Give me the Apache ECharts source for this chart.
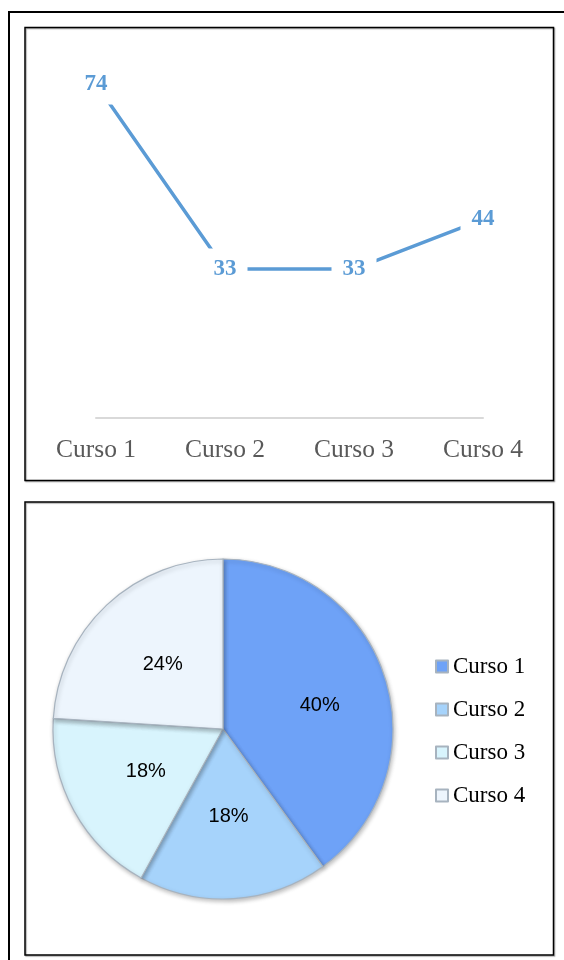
<!DOCTYPE html>
<html>
<head>
<meta charset="utf-8">
<script src="https://cdn.jsdelivr.net/npm/echarts@6/dist/echarts.min.js"></script>
<style>
html,body{margin:0;padding:0;background:#fff;}
#c{width:564px;height:960px;}
</style>
</head>
<body>
<div id="c"></div>
<script>
var categories = ['Curso 1', 'Curso 2', 'Curso 3', 'Curso 4'];
var lineValues = [74, 33, 33, 44];
var pieValues = [40, 18, 18, 24];
var pieColors = ['#6ea2f7', '#a6d3fb', '#d8f4fd', '#edf5fd'];

var chart = echarts.init(document.getElementById('c'), null, {renderer: 'canvas'});

var pieData = categories.map(function (c, i) {
  var d = { name: c, value: pieValues[i], itemStyle: { color: pieColors[i] } };
  if (i === 0) { d.label = { offset: [13, 4] }; }
  return d;
});

chart.setOption({
  animation: false,
  backgroundColor: '#ffffff',
  graphic: [
    { type: 'rect', shape: { x: 9, y: 12, width: 580, height: 980 }, style: { fill: 'none', stroke: '#000', lineWidth: 2 }, z: 0 },
    { type: 'rect', shape: { x: 25, y: 27.5, width: 528.5, height: 453 }, style: { fill: 'none', stroke: '#000', lineWidth: 1.5, shadowColor: 'rgba(0,0,0,0.35)', shadowOffsetX: 1, shadowOffsetY: 1, shadowBlur: 1 }, z: 0 },
    { type: 'rect', shape: { x: 25, y: 502, width: 528.5, height: 453 }, style: { fill: 'none', stroke: '#000', lineWidth: 1.5, shadowColor: 'rgba(0,0,0,0.35)', shadowOffsetX: 1, shadowOffsetY: 1, shadowBlur: 1 }, z: 0 }
  ],
  grid: { left: 96, right: 81, top: 57, bottom: 542, containLabel: false },
  xAxis: {
    type: 'category',
    data: categories,
    boundaryGap: false,
    axisLine: { show: true, lineStyle: { color: '#d9d9d9', width: 2 } },
    axisTick: { show: false },
    axisLabel: { color: '#595959', fontFamily: 'Liberation Serif', fontSize: 25.5, margin: 19, interval: 0 }
  },
  yAxis: {
    type: 'value', min: 0, max: 80, show: false, splitLine: { show: false }
  },
  legend: {
    orient: 'vertical',
    left: 430,
    top: 650,
    itemWidth: 12,
    itemHeight: 12,
    itemGap: 20,
    icon: 'rect',
    data: categories,
    textStyle: { fontFamily: 'Liberation Serif', fontSize: 23, color: '#000', lineHeight: 23 }
  },
  series: [
    {
      type: 'line',
      name: 'Serie',
      data: lineValues,
      symbol: 'circle',
      symbolSize: 2,
      showSymbol: true,
      lineStyle: { color: '#5b9bd5', width: 3.5 },
      itemStyle: { color: '#5b9bd5' },
      label: {
        show: true,
        position: 'inside',
        color: '#5b9bd5',
        fontFamily: 'Liberation Serif',
        fontWeight: 'bold',
        fontSize: 23,
        backgroundColor: '#ffffff',
        padding: [9, 11]
      },
      emphasis: { disabled: true },
      z: 3
    },
    {
      type: 'pie',
      center: [223, 729],
      radius: [0, 170],
      startAngle: 90,
      clockwise: true,
      data: pieData,
      itemStyle: { borderColor: '#a7b3bf', borderWidth: 1.2, shadowColor: 'rgba(0,0,0,0.25)', shadowBlur: 4, shadowOffsetX: 1, shadowOffsetY: 2 },
      label: {
        show: true,
        position: 'inside',
        formatter: '{c}%',
        color: '#000',
        fontFamily: 'Liberation Sans',
        fontSize: 20
      },
      labelLine: { show: false },
      emphasis: { disabled: true }
    }
  ]
});
</script>
</body>
</html>
